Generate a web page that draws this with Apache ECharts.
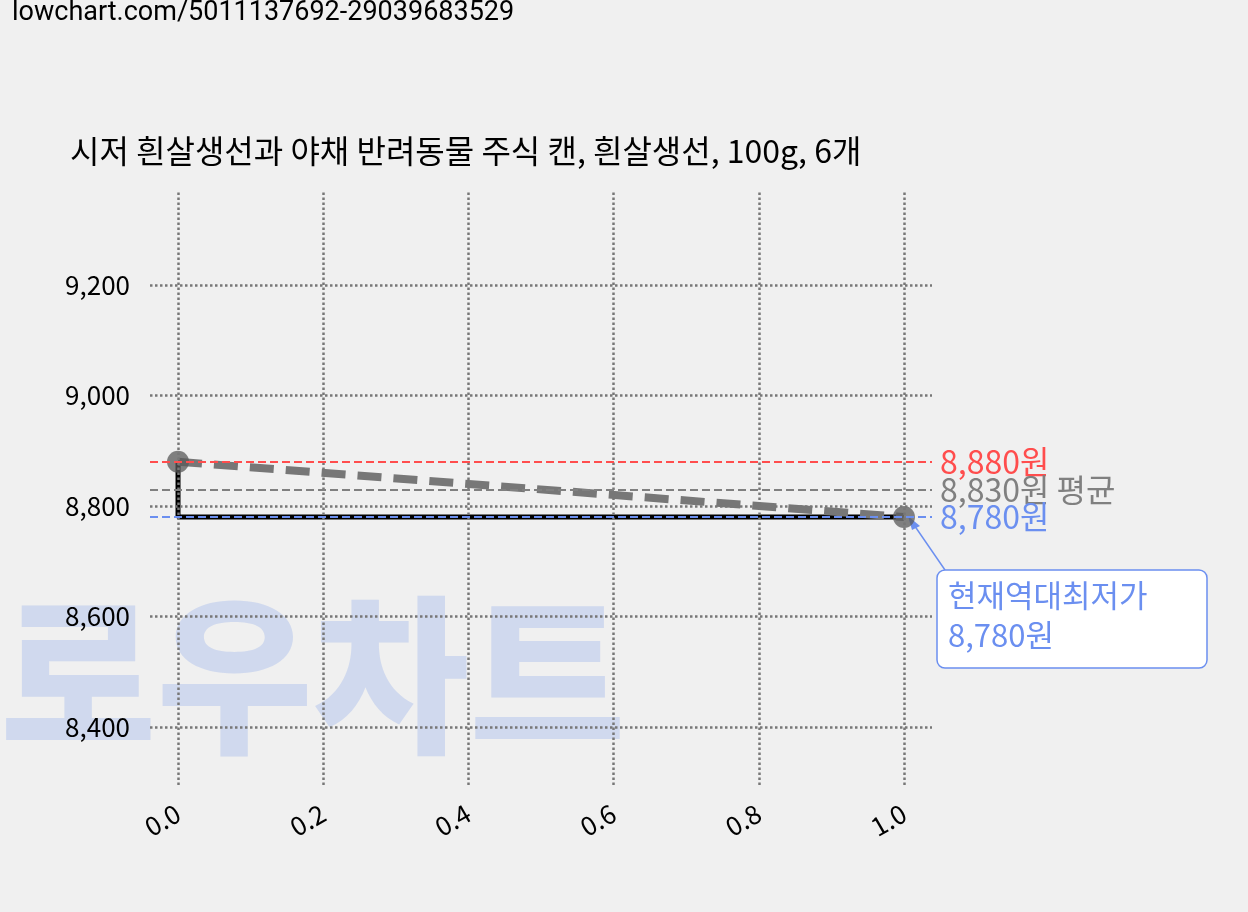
<!DOCTYPE html>
<html><head><meta charset="utf-8">
<script src="https://cdn.jsdelivr.net/npm/echarts@6/dist/echarts.min.js"></script>
<style>html,body{margin:0;background:#f0f0f0}#c{width:1248px;height:912px}</style>
</head><body><div id="c"></div>
<script>
const title = '시저 흰살생선과 야채 반려동물 주식 캔, 흰살생선, 100g, 6개';
const stepX = [0, 0, 1];
const stepY = [8880, 8780, 8780];
const trendX = [0, 1];
const trendY = [8880, 8780];
const maxPrice = 8880, avgPrice = 8830, minPrice = 8780;
const yTicks = [8400, 8600, 8800, 9000, 9200];
const xTicks = [0, 0.2, 0.4, 0.6, 0.8, 1.0];
const font = 'Noto Sans CJK KR';
const gridStyle = {color: '#777', type: 'dotted', width: 2.5};
const chart = echarts.init(document.getElementById('c'));
chart.setOption({
  backgroundColor: '#f0f0f0',
  textStyle: {fontFamily: font},
  title: {text: title, left: 65, top: 130, textStyle: {fontSize: 32, fontWeight: 'normal', color: '#000', fontFamily: font}},
  graphic: [
    {type: 'text', left: 12, top: 0, style: {text: 'lowchart.com/5011137692-29039683529', fontSize: 27, fill: '#000', fontFamily: 'Roboto'}},
    {type: 'text', left: 0, top: 590, z: -1, style: {text: '로우차트', fontSize: 170, fontWeight: 900, fill: 'rgba(150,175,235,0.35)', fontFamily: font}},
    {type: 'line', shape: {x1: 945, y1: 570, x2: 912, y2: 522}, style: {stroke: '#6b8ff0', lineWidth: 1.5}},
    {type: 'polygon', shape: {points: [[908,516],[920,526],[912,530]]}, style: {fill: '#6b8ff0'}},
    {type: 'rect', shape: {x: 937, y: 570, width: 270, height: 98, r: 8}, style: {fill: '#fff', stroke: '#6b8ff0', lineWidth: 1.5}},
    {type: 'text', left: 948, top: 575, style: {text: '현재역대최저가\n8,780원', fontSize: 31, lineHeight: 40, fill: '#6b8ff0', fontFamily: font}}
  ],
  grid: [{left: 150, right: 316, top: 190, bottom: 127}, {left: 178, right: 344, top: 190, bottom: 127}],
  xAxis: [
    {type: 'value', gridIndex: 0, min: -0.0386, max: 1.0386,
      axisLine: {show: false}, axisTick: {show: false}, axisLabel: {show: false}, splitLine: {show: false}},
    {type: 'value', gridIndex: 1, min: 0, max: 1, interval: 0.2,
      axisLine: {show: false}, axisTick: {show: false}, splitLine: {show: false},
      axisLabel: {rotate: 30, fontSize: 26, color: '#000', margin: 26, formatter: v => v.toFixed(1)}}
  ],
  yAxis: [
    {type: 'value', gridIndex: 0, min: 8295, max: 9372,
      axisLine: {show: false}, axisTick: {show: false}, splitLine: {show: false},
      axisLabel: {fontSize: 26, color: '#000', margin: 20, customValues: yTicks, formatter: v => v.toLocaleString('en-US')},
      customValues: yTicks},
    {type: 'value', gridIndex: 1, min: 8295, max: 9372, show: false}
  ],
  series: [
    {type: 'line', data: [], symbol: 'none', silent: true, z: 1,
      markLine: {symbol: 'none', silent: true, label: {show: false}, lineStyle: gridStyle,
        data: xTicks.map(v => ({xAxis: v})).concat(yTicks.map(v => ({yAxis: v})))}},
    {type: 'line', data: stepX.map((x, i) => [x, stepY[i]]), symbol: 'none', lineStyle: {color: '#000', width: 5}, z: 3,
      markLine: {symbol: 'none', silent: true, data: [
        {yAxis: maxPrice, lineStyle: {color: '#ff4d4d', type: 'dashed', width: 2}, label: {formatter: '8,880원', color: '#ff4d4d', fontSize: 32, position: 'end', distance: 8}},
        {yAxis: avgPrice, lineStyle: {color: '#808080', type: 'dashed', width: 2}, label: {formatter: '8,830원 평균', color: '#808080', fontSize: 32, position: 'end', distance: 8}},
        {yAxis: minPrice, lineStyle: {color: '#6b8ff0', type: 'dashed', width: 2}, label: {formatter: '8,780원', color: '#6b8ff0', fontSize: 32, position: 'end', distance: 8}}
      ]}},
    {type: 'line', data: trendX.map((x, i) => [x, trendY[i]]), symbol: 'circle', symbolSize: 22,
      itemStyle: {color: 'rgba(90,90,90,0.75)'}, lineStyle: {color: '#777', width: 8, type: [24, 12]}, z: 4}
  ]
});
</script></body></html>
